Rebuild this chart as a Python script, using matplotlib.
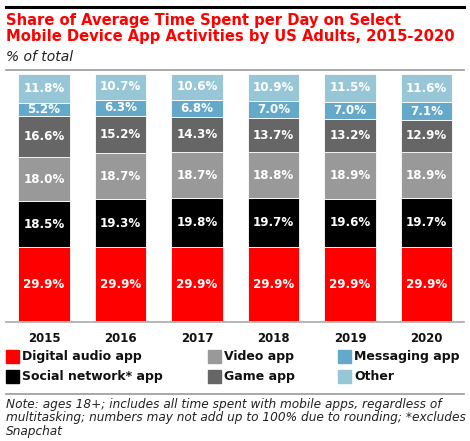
import matplotlib
matplotlib.use("Agg")
import matplotlib.pyplot as plt
from matplotlib.patches import Rectangle
from matplotlib.lines import Line2D
import numpy as np

years = ["2015", "2016", "2017", "2018", "2019", "2020"]
digital_audio = [29.9, 29.9, 29.9, 29.9, 29.9, 29.9]
social_network = [18.5, 19.3, 19.8, 19.7, 19.6, 19.7]
video = [18.0, 18.7, 18.7, 18.8, 18.9, 18.9]
game = [16.6, 15.2, 14.3, 13.7, 13.2, 12.9]
messaging = [5.2, 6.3, 6.8, 7.0, 7.0, 7.1]
other = [11.8, 10.7, 10.6, 10.9, 11.5, 11.6]

series = [
    ("Digital audio app", digital_audio, "#ff0000"),
    ("Social network* app", social_network, "#000000"),
    ("Video app", video, "#999999"),
    ("Game app", game, "#666666"),
    ("Messaging app", messaging, "#64a8ca"),
    ("Other", other, "#97c7d7"),
]

W, H = 470, 441
fig = plt.figure(figsize=(W / 100, H / 100), dpi=100)
plt.rcParams["font.family"] = ["DejaVu Sans"]


def fx(px):
    return px / W


def fy(py):
    return 1 - py / H


# axes: bars from y=74 to y=321
ax = fig.add_axes([fx(5.75), fy(321), fx(459), (321 - 74) / H])
x = np.arange(len(years))
bottom = np.zeros(len(years))
for name, vals, color in series:
    vals = np.array(vals)
    ax.bar(x, vals, bottom=bottom, width=0.667, color=color,
           edgecolor="white", linewidth=0.6)
    for xi, b, v in zip(x, bottom, vals):
        ax.text(xi, b + v / 2, f"{v:.1f}%", ha="center", va="center",
                color="white", fontsize=8.6, fontweight="bold")
    bottom += vals
ax.set_xlim(-0.5, len(years) - 0.5)
ax.set_ylim(0, 100)
ax.axis("off")

# baseline
fig.add_artist(Line2D([fx(6), fx(464)], [fy(321.5)] * 2, color="#aaaaaa", lw=1.2))
for xi, yr in zip(x, years):
    ax.text(xi, -4.5, yr, ha="center", va="top", fontsize=8.5,
            fontweight="bold", color="#111111")

# header
fig.add_artist(Line2D([fx(6), fx(464)], [fy(7)] * 2, color="black", lw=2.2))
fig.text(fx(6), fy(20), "Share of Average Time Spent per Day on Select",
         color="#ff0000", fontsize=10.6, fontweight="bold", va="center")
fig.text(fx(6), fy(37), "Mobile Device App Activities by US Adults, 2015-2020",
         color="#ff0000", fontsize=10.6, fontweight="bold", va="center")
fig.text(fx(6), fy(57), "% of total", color="#222222", fontsize=10,
         style="italic", va="center")
fig.add_artist(Line2D([fx(6), fx(464)], [fy(70)] * 2, color="#999999", lw=1.2))

# legend
legend_cols = [6, 208, 338]
legend_rows = [356.5, 376.5]
order = [(0, 0), (0, 1), (1, 0), (1, 1), (2, 0), (2, 1)]
for (c, r), (name, _, color) in zip(order, series):
    lx, ly = legend_cols[c], legend_rows[r]
    fig.add_artist(Rectangle((fx(lx), fy(ly + 6.5)), fx(13), 13 / H,
                             color=color, transform=fig.transFigure))
    fig.text(fx(lx + 16), fy(ly), name, fontsize=9, fontweight="bold",
             va="center", color="#111111")

fig.add_artist(Line2D([fx(6), fx(464)], [fy(394)] * 2, color="#999999", lw=1.2))
notes = ("Note: ages 18+; includes all time spent with mobile apps, regardless of\n"
         "multitasking; numbers may not add up to 100% due to rounding; *excludes\n"
         "Snapchat")
fig.text(fx(6), fy(398), notes, fontsize=8.7, style="italic", va="top",
         color="#222222", linespacing=1.05)

fig.savefig("out.png", dpi=100)
